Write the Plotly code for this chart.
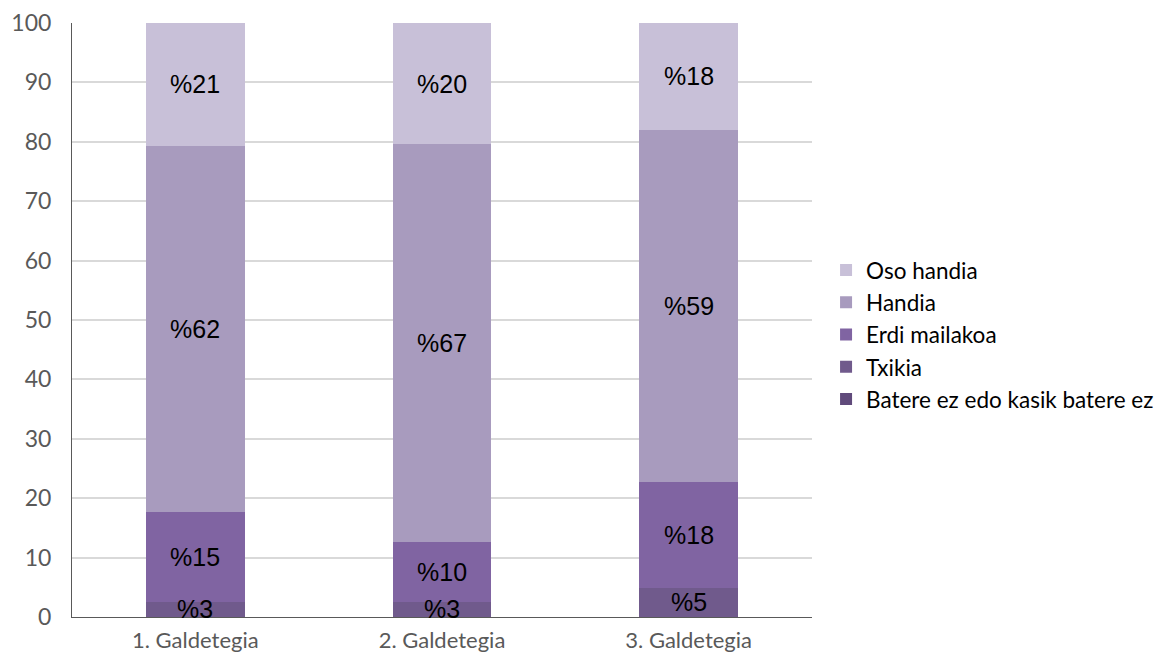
import plotly.graph_objects as go

categories = ["1. Galdetegia", "2. Galdetegia", "3. Galdetegia"]
series_names = ["Batere ez edo kasik batere ez", "Txikia", "Erdi mailakoa", "Handia", "Oso handia"]
batere_ez = [0, 0, 0]
txikia = [2.6, 2.6, 4.9]
erdi_mailakoa = [15.1, 10.0, 17.8]
handia = [61.6, 67.0, 59.3]
oso_handia = [20.7, 20.4, 18.0]
colors = ["#604A7B", "#705A8C", "#8064A2", "#A89BBE", "#C8C0D8"]
y_ticks = [0, 10, 20, 30, 40, 50, 60, 70, 80, 90, 100]

values = [batere_ez, txikia, erdi_mailakoa, handia, oso_handia]
show_text = [False, True, True, True, True]

fig = go.Figure()
base = [0.0] * len(categories)
annotations = []
for name, vals, col, st in zip(series_names, values, colors, show_text):
    fig.add_trace(go.Bar(
        x=categories, y=vals, name=name, marker=dict(color=col, line=dict(width=0)),
        width=0.4, legendgroup=name, hoverinfo="skip",
    ))
    for i, (c, v) in enumerate(zip(categories, vals)):
        if st and v > 0:
            annotations.append(dict(
                x=c, y=base[i] + v / 2, xref="x", yref="y", text=f"%{v:.0f}",
                showarrow=False,
                font=dict(family="Liberation Sans, Arial, sans-serif", size=25, color="black"),
            ))
        base[i] += v

fig.update_layout(
    barmode="stack",
    width=1174, height=662,
    margin=dict(l=72, r=362, t=23, b=45),
    plot_bgcolor="white", paper_bgcolor="white",
    annotations=annotations,
    legend=dict(
        traceorder="reversed", x=1.019, xanchor="left", y=0.475, yanchor="middle",
        font=dict(family="Lato, sans-serif", size=22.5, color="black"),
        tracegroupgap=6, bgcolor="rgba(0,0,0,0)",
    ),
    xaxis=dict(
        showline=True, linecolor="#595959", linewidth=1, automargin=False,
        tickfont=dict(family="Lato, sans-serif", size=22, color="#595959"),
        ticks="", ticklabelstandoff=4,
    ),
    yaxis=dict(
        range=[0, 100], tickvals=y_ticks, showgrid=True, gridcolor="#D9D9D9", gridwidth=1.5,
        showline=True, linecolor="#595959", linewidth=1, zeroline=False, automargin=False,
        tickfont=dict(family="Lato, sans-serif", size=23, color="#595959"),
        ticks="", ticklabelstandoff=15,
    ),
)

fig.write_html(
    "out.html",
    config={"displayModeBar": False},
    post_script="document.body.style.margin='0';document.body.style.overflow='hidden';",
)
